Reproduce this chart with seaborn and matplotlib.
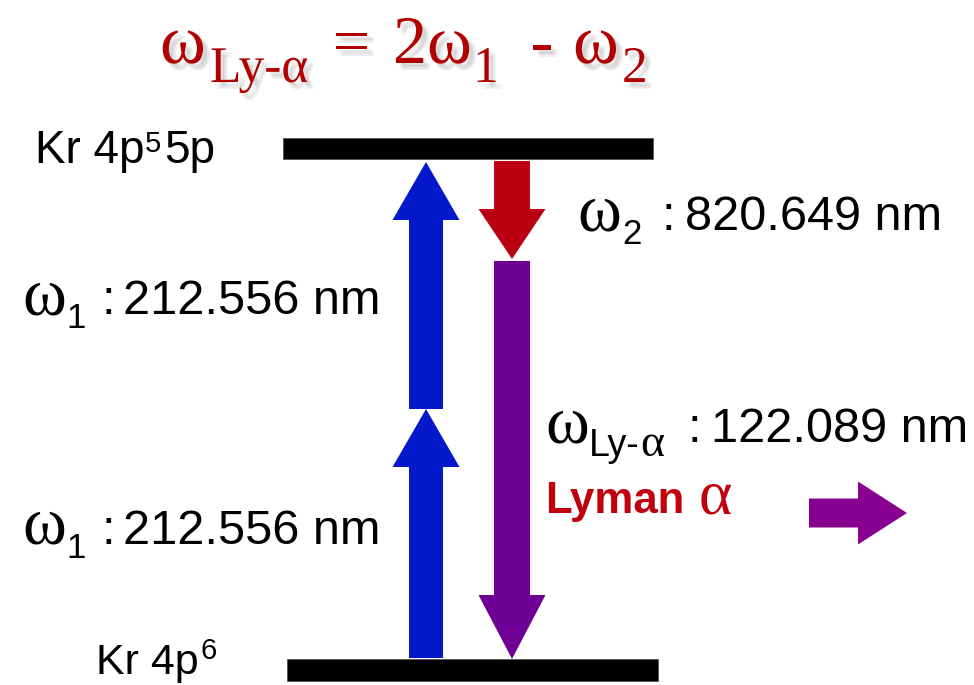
import matplotlib
matplotlib.use("Agg")
import matplotlib.pyplot as plt
import matplotlib.patheffects as pe
from matplotlib.patches import FancyArrow
import seaborn as sns

# ---------------- data ----------------
level_names = ["Kr 4p", "Kr 4p"]          # ground, excited
level_sups = ["6", "5"]
level_tails = ["", "5p"]
photons = ["ω1", "ω1", "ω2", "ωLy-α"]
wavelength_nm = [212.556, 212.556, 820.649, 122.089]
title_parts = ["ω", "Ly-α", "=", "2ω", "1", "-", "ω", "2"]
emission_label = ["Lyman", "α"]

# ---------------- style ----------------
sns.set_theme(style="white")
SERIF = ["Liberation Serif", "DejaVu Serif"]
SANS = ["Liberation Sans", "DejaVu Sans"]
BLUE = "#0418CC"
RED = "#BB0012"
PURPLE = "#6E0096"
MAGENTA = "#88008F"
TITLE_RED = "#B00000"
LYMAN_RED = "#C0000E"

fig = plt.figure(figsize=(9.74, 6.85), dpi=100)
ax = fig.add_axes([0, 0, 1, 1])
ax.set_xlim(0, 974)
ax.set_ylim(685, 0)
ax.axis("off")
renderer = fig.canvas.get_renderer()


def put(x, y, s, size, family, color="black", weight="normal", effects=None):
    t = ax.text(x, y, s, fontsize=size, family=family, color=color,
                weight=weight, ha="left", va="baseline")
    if effects:
        t.set_path_effects(effects)
    return t


def width_of(t):
    return t.get_window_extent(renderer).width


# ---------------- energy levels ----------------
ax.barh([148.5, 670], [370, 371], left=[283, 287], height=[21, 22],
        color="black", edgecolor="#555555", linewidth=0.6)

# level labels
put(35, 163, level_names[1], 33, SANS)
put(145, 152, level_sups[1], 21, SANS)
put(164, 163, level_tails[1], 33, SANS)
t_low = put(96, 674, level_names[0], 31, SANS)
put(96 + width_of(t_low) + 2, 659, level_sups[0], 21, SANS)

# ---------------- arrows ----------------
def arrow(x0, y0, x1, y1, width, hw, hl, color):
    ax.add_patch(FancyArrow(x0, y0, x1 - x0, y1 - y0, width=width,
                            head_width=hw, head_length=hl,
                            length_includes_head=True, color=color,
                            linewidth=0))

arrow(426, 658, 426, 409, 34, 67, 58, BLUE)
arrow(426, 409, 426, 162, 34, 67, 58, BLUE)
arrow(512, 161, 512, 259, 36, 67, 50, RED)
arrow(512, 261, 512, 659, 36, 67, 64, PURPLE)
arrow(809, 513, 907, 513, 29, 63, 49, MAGENTA)

# ---------------- photon labels ----------------
def photon_label(x, y, sub, value, sub_x, colon_x, num_x):
    put(x, y, "ω", 48, SERIF)
    if sub.startswith("Ly"):
        t = put(sub_x, y + 14, "Ly-", 27, SANS)
        put(sub_x + width_of(t) + 1, y + 14, "α", 33, SERIF)
    else:
        put(sub_x, y + 14, sub, 25, SANS)
    put(colon_x, y, ":", 35, SANS)
    put(num_x, y, f"{value:.3f} nm", 35, SANS)

photon_label(22, 314, photons[0][1:], wavelength_nm[0], 66, 102, 123)
photon_label(22, 544, photons[1][1:], wavelength_nm[1], 66, 102, 123)
photon_label(577, 230, photons[2][1:], wavelength_nm[2], 622, 661, 685)
photon_label(545, 442, photons[3][1:], wavelength_nm[3], 589, 688, 711)

put(545, 513, emission_label[0], 31.5, SANS, color=LYMAN_RED, weight="bold")
put(699, 513, emission_label[1], 46, SERIF, color=LYMAN_RED)

# ---------------- title ----------------
shadow = [pe.SimplePatchShadow(offset=(dx, -dy), shadow_rgbFace="#888888", alpha=0.07)
          for dx, dy in [(2, 2), (3, 3), (4, 4), (5, 5), (3, 5), (5, 3)]] + [pe.Normal()]
tb = 63
put(160, tb, title_parts[0], 50, SERIF, TITLE_RED, effects=shadow)
put(210, tb + 19, title_parts[1], 37, SERIF, TITLE_RED, effects=shadow)
put(333, tb, title_parts[2], 48, SERIF, TITLE_RED, effects=shadow)
put(393, tb, title_parts[3], 49, SERIF, TITLE_RED, effects=shadow)
put(473, tb + 19, title_parts[4], 37, SERIF, TITLE_RED, effects=shadow)
put(531, tb, title_parts[5], 48, SERIF, TITLE_RED, effects=shadow)
put(573, tb, title_parts[6], 50, SERIF, TITLE_RED, effects=shadow)
put(622, tb + 19, title_parts[7], 37, SERIF, TITLE_RED, effects=shadow)

fig.savefig("out.png", dpi=100, facecolor="white")
